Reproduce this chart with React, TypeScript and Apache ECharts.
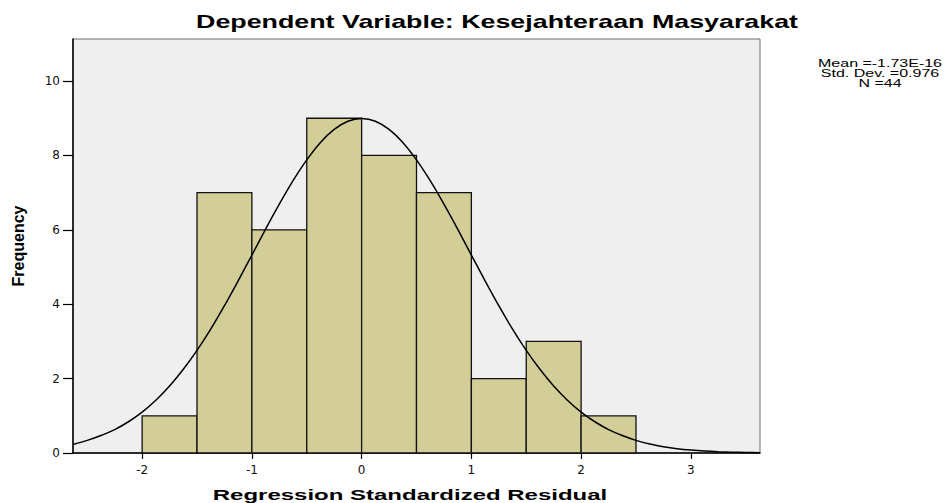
import React, { useEffect, useRef } from "react";
import * as echarts from "echarts";

const titleText = "Dependent Variable: Kesejahteraan Masyarakat";
const xAxisTitle = "Regression Standardized Residual";
const yAxisTitle = "Frequency";
const statsLines = ["Mean =-1.73E-16", "Std. Dev. =0.976", "N =44"];

const binEdges = [-2, -1.5, -1, -0.5, 0, 0.5, 1, 1.5, 2, 2.5];
const counts = [1, 7, 6, 9, 8, 7, 2, 3, 1];

const curveX = [
  -2.63, -2.5, -2.375, -2.25, -2.125, -2, -1.875, -1.75, -1.625, -1.5, -1.375, -1.25, -1.125, -1,
  -0.875, -0.75, -0.625, -0.5, -0.375, -0.25, -0.125, 0, 0.125, 0.25, 0.375, 0.5, 0.625, 0.75,
  0.875, 1, 1.125, 1.25, 1.375, 1.5, 1.625, 1.75, 1.875, 2, 2.125, 2.25, 2.375, 2.5, 2.625, 2.75,
  2.875, 3, 3.125, 3.25, 3.375, 3.5, 3.63,
];
const curveY = [
  0.23, 0.34, 0.47, 0.63, 0.84, 1.1, 1.42, 1.8, 2.25, 2.76, 3.33, 3.96, 4.63, 5.32,
  6.02, 6.69, 7.32, 7.88, 8.35, 8.7, 8.92, 8.99, 8.92, 8.7, 8.35, 7.88, 7.32, 6.69,
  6.02, 5.32, 4.63, 3.96, 3.33, 2.76, 2.25, 1.8, 1.42, 1.1, 0.84, 0.63, 0.47, 0.34, 0.24, 0.17,
  0.117, 0.08, 0.053, 0.035, 0.023, 0.015, 0.01,
];

const xTicks = [-2, -1, 0, 1, 2, 3];
const yTicks = [0, 2, 4, 6, 8, 10];

export default function App() {
  const ref = useRef<HTMLDivElement>(null);
  useEffect(() => {
    if (!ref.current) return;
    const chart = echarts.init(ref.current, null, { renderer: "svg" });
    const barData = counts.map((c, i) => [binEdges[i], binEdges[i + 1], c]);
    const lineData = curveX.map((x, i) => [x, curveY[i]]);
    chart.setOption({
      animation: false,
      backgroundColor: "#ffffff",
      grid: {
        left: 73,
        right: 191,
        top: 39,
        bottom: 50,
        show: true,
        backgroundColor: "#efefef",
        borderColor: "#6e6e6e",
        borderWidth: 1,
      },
      xAxis: {
        type: "value",
        min: -2.63,
        max: 3.63,
        splitLine: { show: false },
        axisLine: { show: true, onZero: false, lineStyle: { color: "#000", width: 1.5 } },
        axisTick: { show: true, length: 6, customValues: xTicks, lineStyle: { color: "#000", width: 1.2 } },
        axisLabel: {
          customValues: xTicks,
          margin: 11,
          color: "#111",
          fontFamily: "DejaVu Sans",
          fontSize: 12,
        },
      },
      yAxis: {
        type: "value",
        min: 0,
        max: 11.13,
        splitLine: { show: false },
        axisLine: { show: true, onZero: false, lineStyle: { color: "#000", width: 1.5 } },
        axisTick: { show: true, length: 10, customValues: yTicks, lineStyle: { color: "#000", width: 1.2 } },
        axisLabel: {
          customValues: yTicks,
          margin: 13,
          color: "#111",
          fontFamily: "DejaVu Sans",
          fontSize: 12,
        },
      },
      series: [
        {
          type: "custom",
          data: barData,
          encode: { x: [0, 1], y: 2 },
          renderItem: (params: any, api: any) => {
            const p0 = api.coord([api.value(0), 0]);
            const p1 = api.coord([api.value(1), api.value(2)]);
            return {
              type: "rect",
              shape: { x: p0[0], y: p1[1], width: p1[0] - p0[0], height: p0[1] - p1[1] },
              style: { fill: "#d3ce98", stroke: "#111", lineWidth: 1.3 },
            };
          },
          z: 2,
        },
        {
          type: "line",
          data: lineData,
          smooth: 0.3,
          showSymbol: false,
          symbol: "none",
          lineStyle: { color: "#000", width: 1.5 },
          z: 3,
        },
      ],
      graphic: [
        {
          type: "text",
          x: 497,
          y: 22,
          scaleX: 1.49,
          style: {
            text: titleText,
            font: "bold 18px 'Liberation Sans', Arial, sans-serif",
            fill: "#000",
            textAlign: "center",
            textVerticalAlign: "middle",
          },
        },
        {
          type: "text",
          x: 410,
          y: 495,
          scaleX: 1.6,
          style: {
            text: xAxisTitle,
            font: "bold 15px 'Liberation Sans', Arial, sans-serif",
            fill: "#000",
            textAlign: "center",
            textVerticalAlign: "middle",
          },
        },
        {
          type: "text",
          x: 18.5,
          y: 246,
          rotation: Math.PI / 2,
          style: {
            text: yAxisTitle,
            font: "bold 16px 'Liberation Sans Narrow', 'Liberation Sans', Arial, sans-serif",
            fill: "#000",
            textAlign: "center",
            textVerticalAlign: "middle",
          },
        },
        ...statsLines.map((t, i) => ({
          type: "text",
          x: 880,
          y: 64 + i * 10,
          scaleX: 1.6,
          style: {
            text: t,
            font: "10px 'Liberation Sans', Arial, sans-serif",
            fill: "#000",
            textAlign: "center",
            textVerticalAlign: "middle",
          },
        })),
      ],
    });
    return () => chart.dispose();
  }, []);
  return (
    <div
      ref={ref}
      style={{ position: "fixed", left: 0, top: 0, width: 951, height: 503 }}
    />
  );
}
